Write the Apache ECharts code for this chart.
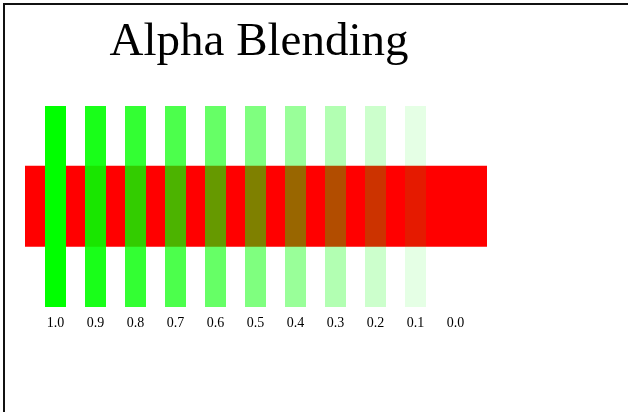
<!DOCTYPE html>
<html>
<head>
<meta charset="utf-8">
<script src="https://cdn.jsdelivr.net/npm/echarts@6/dist/echarts.min.js"></script>
<style>
html,body{margin:0;padding:0;background:#fff;}
#chart{width:628px;height:412px;}
</style>
</head>
<body>
<div id="chart"></div>
<script>
// Data
var alphaLabels = ['1.0','0.9','0.8','0.7','0.6','0.5','0.4','0.3','0.2','0.1','0.0'];
var alphaValues = [1.0, 0.9, 0.8, 0.7, 0.6, 0.5, 0.4, 0.3, 0.2, 0.1, 0.0];
var greenBarLow = 0;
var greenBarHigh = 200;
var greenBarWidth = 0.525;           // in category units
var redBandX = [-0.7625, 10.7875];    // in category units
var redBandY = [60, 140.5];

var chart = echarts.init(document.getElementById('chart'), null, {renderer: 'canvas'});

var greenData = alphaValues.map(function (a, i) { return [i, greenBarLow, greenBarHigh, a]; });
var redData = [[redBandX[0], redBandX[1], redBandY[0], redBandY[1]]];

var option = {
  backgroundColor: '#fff',
  animation: false,
  title: {
    text: 'Alpha Blending',
    left: 254,
    top: 14,
    textAlign: 'center',
    textStyle: {fontFamily: 'Liberation Serif', fontSize: 47, fontWeight: 'normal', color: '#000'}
  },
  grid: {left: 15.5, right: 628 - 495.5, top: 106, bottom: 412 - 307},
  xAxis: {
    type: 'value', min: -1, max: 11, interval: 1,
    axisLine: {show: false}, axisTick: {show: false}, splitLine: {show: false},
    axisLabel: {
      margin: 9,
      fontFamily: 'Liberation Serif', fontSize: 14, color: '#000',
      formatter: function (v) { return alphaLabels[v] !== undefined ? alphaLabels[v] : ''; }
    }
  },
  yAxis: {
    type: 'value', min: 0, max: 200, show: false
  },
  series: [
    {
      type: 'custom',
      z: 1,
      data: redData,
      renderItem: function (params, api) {
        var p0 = api.coord([api.value(0), api.value(3)]);
        var p1 = api.coord([api.value(1), api.value(2)]);
        return {type: 'rect', shape: {x: p0[0], y: p0[1], width: p1[0] - p0[0], height: p1[1] - p0[1]},
          style: {fill: 'rgb(255,0,0)'}};
      }
    },
    {
      type: 'custom',
      z: 2,
      data: greenData,
      renderItem: function (params, api) {
        var i = api.value(0);
        var p0 = api.coord([i - greenBarWidth / 2, api.value(2)]);
        var p1 = api.coord([i + greenBarWidth / 2, api.value(1)]);
        return {type: 'rect', shape: {x: p0[0], y: p0[1], width: p1[0] - p0[0], height: p1[1] - p0[1]},
          style: {fill: 'rgba(0,255,0,' + api.value(3) + ')'}};
      }
    }
  ],
  graphic: [
    {type: 'line', shape: {x1: 3, y1: 4, x2: 628, y2: 4}, style: {stroke: '#111', lineWidth: 2}},
    {type: 'line', shape: {x1: 4, y1: 3, x2: 4, y2: 412}, style: {stroke: '#111', lineWidth: 2}}
  ]
};
chart.setOption(option);
</script>
</body>
</html>
